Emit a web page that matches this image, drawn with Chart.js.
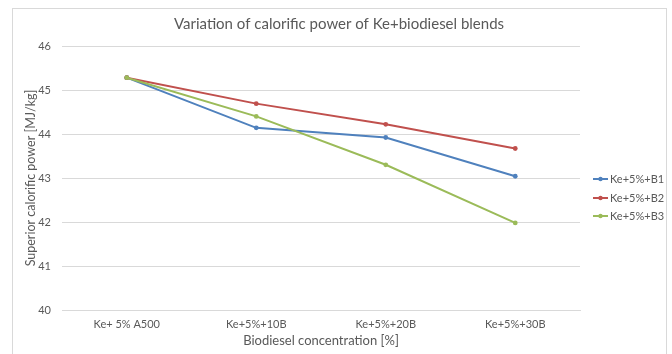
<!DOCTYPE html>
<html>
<head>
<meta charset="utf-8">
<script src="https://cdn.jsdelivr.net/npm/chart.js@4/dist/chart.umd.min.js"></script>
<style>
  html, body { margin: 0; padding: 0; background: #ffffff; }
  #wrap { position: relative; width: 672px; height: 354px; }
</style>
</head>
<body>
<div id="wrap"><canvas id="c" width="672" height="354"></canvas></div>
<script>
// Blend categories and superior calorific power (MJ/kg) per biodiesel type
const categories = ["Ke+ 5% A500", "Ke+5%+10B", "Ke+5%+20B", "Ke+5%+30B"];
const seriesNames = ["Ke+5%+B1", "Ke+5%+B2", "Ke+5%+B3"];
const b1Values = [45.28, 44.14, 43.92, 43.04];
const b2Values = [45.28, 44.69, 44.22, 43.67];
const b3Values = [45.28, 44.40, 43.30, 41.98];
const yTicks = [40, 41, 42, 43, 44, 45, 46];
const chartTitle = "Variation of calorific power of Ke+biodiesel blends";

const colors = ["#4F81BD", "#C0504D", "#9BBB59"];
const FONT = "Lato, 'Liberation Sans', sans-serif";
const TEXT = "#595959";
const GRID = "#d9d9d9";

// Outer chart frame and the title centred across the whole frame
const framePlugin = {
  id: "frame",
  beforeDraw(chart) {
    const ctx = chart.ctx;
    ctx.save();
    ctx.fillStyle = "#ffffff";
    ctx.fillRect(0, 0, chart.width, chart.height);
    ctx.strokeStyle = "#d9d9d9";
    ctx.lineWidth = 1;
    ctx.strokeRect(12.5, 8.5, 654, 400);
    ctx.fillStyle = TEXT;
    ctx.font = "15px " + FONT;
    ctx.textAlign = "center";
    ctx.textBaseline = "middle";
    ctx.fillText(chartTitle, 339, 24);
    ctx.restore();
  }
};

// Vertical legend at the right, line + marker symbols
const sideLegend = {
  id: "sideLegend",
  afterDraw(chart) {
    const ctx = chart.ctx;
    const ds = chart.data.datasets;
    const x0 = 593, x1 = 608;
    const ys = [179, 198, 216];
    ctx.save();
    ctx.font = "11px " + FONT;
    ctx.textBaseline = "middle";
    ctx.textAlign = "left";
    ds.forEach((d, i) => {
      const y = ys[i];
      ctx.strokeStyle = d.borderColor;
      ctx.lineWidth = 2;
      ctx.beginPath();
      ctx.moveTo(x0, y);
      ctx.lineTo(x1, y);
      ctx.stroke();
      ctx.fillStyle = d.borderColor;
      ctx.beginPath();
      ctx.arc((x0 + x1) / 2, y, 2.2, 0, Math.PI * 2);
      ctx.fill();
      ctx.fillStyle = TEXT;
      ctx.fillText(d.label, x1 + 2, y);
    });
    ctx.restore();
  }
};

const datasets = [b1Values, b2Values, b3Values].map((vals, i) => ({
  label: seriesNames[i],
  data: vals,
  borderColor: colors[i],
  backgroundColor: colors[i],
  borderWidth: 2,
  pointRadius: 2.4,
  pointHoverRadius: 2.4,
  pointBorderWidth: 0,
  tension: 0,
  order: 2 - i
}));

new Chart(document.getElementById("c"), {
  type: "line",
  data: { labels: categories, datasets: datasets },
  plugins: [framePlugin, sideLegend],
  options: {
    responsive: false,
    animation: false,
    devicePixelRatio: 1,
    layout: { padding: { left: 0, right: 92, top: 46, bottom: 0 } },
    plugins: {
      legend: { display: false },
      tooltip: { enabled: false },
      title: { display: false }
    },
    scales: {
      x: {
        type: "category",
        offset: true,
        grid: { display: false, drawTicks: false },
        border: { display: true, color: GRID, width: 1 },
        ticks: {
          color: TEXT,
          font: { family: FONT, size: 11 },
          padding: 8,
          maxRotation: 0,
          autoSkip: false
        },
        title: {
          display: true,
          text: "Biodiesel concentration [%]",
          color: TEXT,
          font: { family: FONT, size: 13 },
          padding: { top: 0, bottom: 5 }
        },
        afterFit(scale) { scale.height = 44; }
      },
      y: {
        min: 40,
        max: 46,
        afterBuildTicks(scale) { scale.ticks = yTicks.map(v => ({ value: v })); },
        grid: { color: GRID, lineWidth: 1, drawTicks: false },
        border: { display: false },
        ticks: {
          color: TEXT,
          font: { family: FONT, size: 11 },
          padding: 11
        },
        title: {
          display: true,
          text: "Superior calorific power [MJ/kg]",
          color: TEXT,
          font: { family: FONT, size: 12.5 },
          padding: { top: 23, bottom: 0 }
        },
        afterFit(scale) { scale.width = 62; }
      }
    }
  }
});
</script>
</body>
</html>
